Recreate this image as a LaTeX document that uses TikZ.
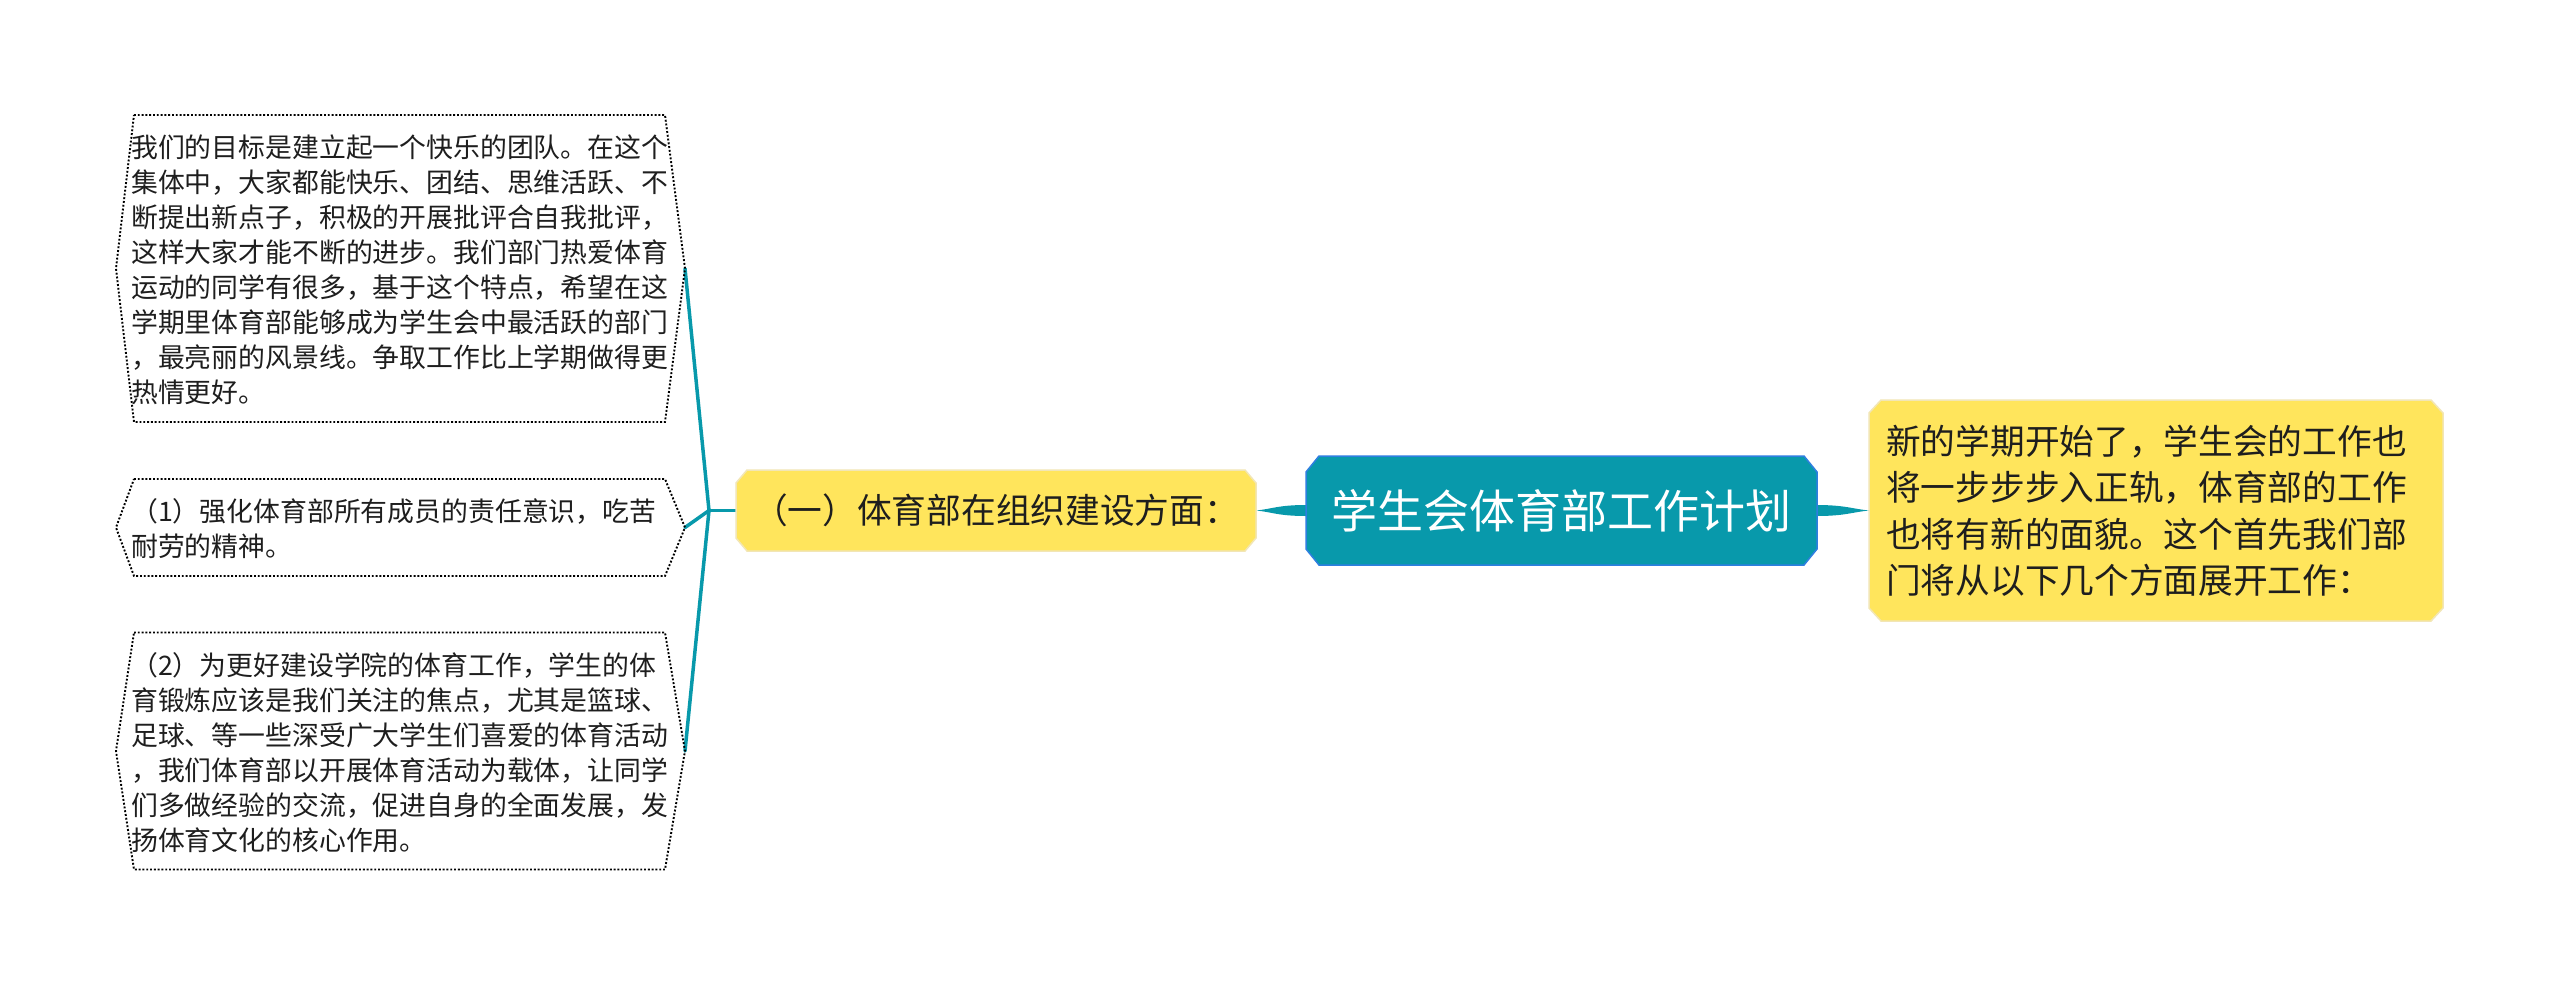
\documentclass[tikz,border=0pt]{standalone}
\usepackage{fontspec}
\setmainfont{Noto Sans CJK SC}
\usetikzlibrary{calc}
\definecolor{tealc}{HTML}{0899AB}
\definecolor{blueb}{HTML}{2E7FE0}
\definecolor{yelf}{HTML}{FFE55C}
\definecolor{yelb}{HTML}{F2E6B5}
\definecolor{txtc}{HTML}{1E1E1E}
\newcommand\chamferbox[4]{\path[#4] ([xshift=#2pt]#1.north west) -- ([xshift=-#2pt]#1.north east) -- ([yshift=-#3pt]#1.north east) -- ([yshift=#3pt]#1.south east) -- ([xshift=-#2pt]#1.south east) -- ([xshift=#2pt]#1.south west) -- ([yshift=#3pt]#1.south west) -- ([yshift=-#3pt]#1.north west) -- cycle;}
\newcommand\leftfont{\fontsize{26.85pt}{35pt}\selectfont}
\newcommand\yelfont{\fontsize{34.7pt}{46.5pt}\selectfont}
\begin{document}
\begin{tikzpicture}[x=1pt,y=-1pt,
  boxnode/.style={inner sep=0pt, outer sep=0pt, draw=none},
  txtnode/.style={inner sep=0pt, align=left, text=txtc},
  branch/.style={draw=tealc, line width=3.5pt},
  dotbox/.style={draw=black, line width=1.9pt, dash pattern=on 1.9pt off 1.9pt},
]
\useasboundingbox[fill=white] (0,0) rectangle (2560,986);

% node frames
\node[boxnode, minimum width=511pt, minimum height=109pt] (root) at (1561.5,510.5) {};
\node[boxnode, minimum width=574pt, minimum height=221pt] (intro) at (2156,510.5) {};
\node[boxnode, minimum width=520pt, minimum height=81pt] (sec) at (996,510.5) {};
\node[boxnode, minimum width=531pt, minimum height=307pt] (b1) at (399.5,268.5) {};
\node[boxnode, minimum width=531pt, minimum height=97pt] (b2) at (399.5,527.5) {};
\node[boxnode, minimum width=531pt, minimum height=237pt] (b3) at (399.5,751) {};
\coordinate (J) at (709,510.5);
\coordinate (b1e) at ([xshift=20pt]b1.east);
\coordinate (b1w) at ([xshift=-18pt]b1.west);
\coordinate (b2e) at ([xshift=20pt]b2.east);
\coordinate (b2w) at ([xshift=-18pt]b2.west);
\coordinate (b3e) at ([xshift=20pt]b3.east);
\coordinate (b3w) at ([xshift=-18pt]b3.west);

% connectors
\fill[tealc] ([yshift=5.5pt]root.east) .. controls ([xshift=28pt,yshift=5.5pt]root.east) and ([xshift=-16pt,yshift=1.5pt]intro.west) .. (intro.west) .. controls ([xshift=-16pt,yshift=-1.5pt]intro.west) and ([xshift=28pt,yshift=-5.5pt]root.east) .. ([yshift=-5.5pt]root.east) -- cycle;
\fill[tealc] ([yshift=5.5pt]root.west) .. controls ([xshift=-28pt,yshift=5.5pt]root.west) and ([xshift=16pt,yshift=1.5pt]sec.east) .. (sec.east) .. controls ([xshift=16pt,yshift=-1.5pt]sec.east) and ([xshift=-28pt,yshift=-5.5pt]root.west) .. ([yshift=-5.5pt]root.west) -- cycle;
\draw[branch] (sec.west) -- (J);
\draw[branch, line cap=round] (J) -- (b1e);
\draw[branch, line cap=round] (J) -- (b2e);
\draw[branch, line cap=round] (J) -- (b3e);

% shapes
\chamferbox{root}{13}{16}{fill=tealc, draw=blueb, line width=1.5pt}
\chamferbox{intro}{12}{13}{fill=yelf, draw=yelb, line width=1.5pt}
\chamferbox{sec}{11}{13}{fill=yelf, draw=yelb, line width=1.5pt}
\draw[dotbox] (b1.north west) -- (b1.north east) -- (b1e) -- (b1.south east) -- (b1.south west) -- (b1w) -- cycle;
\draw[dotbox] (b2.north west) -- (b2.north east) -- (b2e) -- (b2.south east) -- (b2.south west) -- (b2w) -- cycle;
\draw[dotbox] (b3.north west) -- (b3.north east) -- (b3e) -- (b3.south east) -- (b3.south west) -- (b3w) -- cycle;

% texts
\node[inner sep=0pt, text=white, font=\fontsize{46pt}{55pt}\selectfont] (roott) at (root.center) {学生会体育部工作计划};
\node[txtnode, font=\yelfont, anchor=west] (introt) at (1886,511) {新的学期开始了，学生会的工作也\\将一步步步入正轨，体育部的工作\\也将有新的面貌。这个首先我们部\\门将从以下几个方面展开工作：};
\node[txtnode, font=\yelfont] (sect) at (sec.center) {（一）体育部在组织建设方面：};
\node[txtnode, font=\leftfont, anchor=west] (b1t) at (131,269.5) {我们的目标是建立起一个快乐的团队。在这个\\集体中，大家都能快乐、团结、思维活跃、不\\断提出新点子，积极的开展批评合自我批评，\\这样大家才能不断的进步。我们部门热爱体育\\运动的同学有很多，基于这个特点，希望在这\\学期里体育部能够成为学生会中最活跃的部门\\，最亮丽的风景线。争取工作比上学期做得更\\热情更好。};
\node[txtnode, font=\leftfont, anchor=west] (b2t) at (131,528.5) {（1）强化体育部所有成员的责任意识，吃苦\\耐劳的精神。};
\node[txtnode, font=\leftfont, anchor=west] (b3t) at (131,752.5) {（2）为更好建设学院的体育工作，学生的体\\育锻炼应该是我们关注的焦点，尤其是篮球、\\足球、等一些深受广大学生们喜爱的体育活动\\，我们体育部以开展体育活动为载体，让同学\\们多做经验的交流，促进自身的全面发展，发\\扬体育文化的核心作用。};
\end{tikzpicture}
\end{document}
